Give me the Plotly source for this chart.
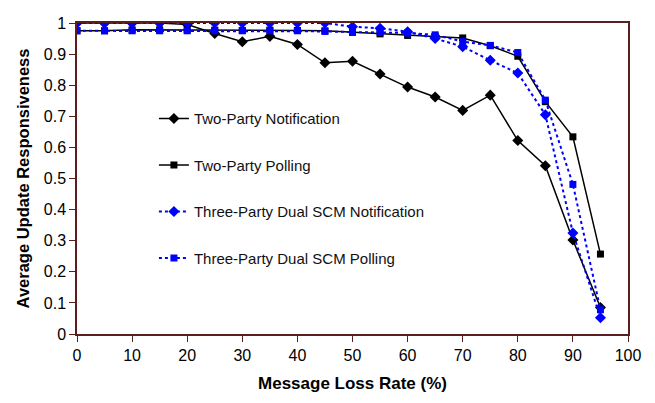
import plotly.graph_objects as go

loss_rate = [0, 5, 10, 15, 20, 25, 30, 35, 40, 45, 50, 55, 60, 65, 70, 75, 80, 85, 90, 95]

two_party_notification = [1.0, 1.0, 1.0, 1.0, 0.995, 0.966, 0.94, 0.957, 0.931, 0.872,
                          0.877, 0.836, 0.794, 0.762, 0.719, 0.768, 0.622, 0.541, 0.302, 0.085]
two_party_polling = [0.975, 0.975, 0.978, 0.978, 0.978, 0.977, 0.976, 0.977, 0.976, 0.975,
                     0.970, 0.965, 0.960, 0.957, 0.952, 0.927, 0.893, 0.747, 0.634, 0.257]
three_party_notification = [1.0, 1.0, 1.0, 1.0, 1.0, 1.0, 1.0, 1.0, 1.0, 1.0,
                            0.988, 0.983, 0.972, 0.950, 0.924, 0.880, 0.839, 0.705, 0.325, 0.052]
three_party_polling = [0.975, 0.975, 0.975, 0.975, 0.975, 0.975, 0.975, 0.975, 0.975, 0.973,
                       0.971, 0.970, 0.968, 0.962, 0.940, 0.928, 0.905, 0.752, 0.481, 0.078]

series_names = ["Two-Party Notification", "Two-Party Polling",
                "Three-Party Dual SCM Notification", "Three-Party Dual SCM Polling"]

y_ticks = [0, 0.1, 0.2, 0.3, 0.4, 0.5, 0.6, 0.7, 0.8, 0.9, 1]
y_tick_labels = ["0", "0.1", "0.2", "0.3", "0.4", "0.5", "0.6", "0.7", "0.8", "0.9", "1"]
x_ticks = [0, 10, 20, 30, 40, 50, 60, 70, 80, 90, 100]

axis_color = "#5a1e1e"
font_family = "Liberation Sans, Arial, sans-serif"

fig = go.Figure()
specs = [
    (two_party_notification, "black", "solid", "diamond", 8.5, 1.5),
    (two_party_polling, "black", "solid", "square", 7, 1.5),
    (three_party_notification, "#0000ff", "dot", "diamond", 8.5, 2),
    (three_party_polling, "#0000ff", "dot", "square", 7, 2),
]
for name, (vals, color, dash, sym, msize, lw) in zip(series_names, specs):
    fig.add_trace(go.Scatter(
        x=loss_rate, y=vals, name=name, mode="lines+markers",
        line=dict(color=color, dash=dash, width=lw),
        marker=dict(symbol=sym, size=msize, color=color),
        legendgroup=name,
    ))

fig.update_layout(
    width=647, height=395,
    margin=dict(l=69, r=27, t=7, b=69),
    paper_bgcolor="white", plot_bgcolor="white",
    font=dict(family=font_family, size=15, color="black"),
    showlegend=True,
    legend=dict(x=0.1396, y=0.745, xanchor="left", yanchor="top",
                bgcolor="rgba(0,0,0,0)", tracegroupgap=24,
                font=dict(size=15, family=font_family, color="#111111")),
    xaxis=dict(range=[0, 100], tickvals=x_ticks,
               showgrid=False, zeroline=False, showline=True, mirror=True,
               linecolor=axis_color, linewidth=1.5, ticks="outside", ticklen=6,
               tickcolor=axis_color, tickfont=dict(size=16),
               title=dict(text="<b>Message Loss Rate (%)</b>", font=dict(size=17), standoff=14)),
    yaxis=dict(range=[0, 1], tickvals=y_ticks, ticktext=y_tick_labels,
               showgrid=False, zeroline=False, showline=True, mirror=True,
               linecolor=axis_color, linewidth=1.5, ticks="outside", ticklen=6,
               tickcolor=axis_color, tickfont=dict(size=16),
               title=dict(text="<b>Average Update Responsiveness</b>", font=dict(size=16.5), standoff=10)),
)

fig.write_html("out.html")
